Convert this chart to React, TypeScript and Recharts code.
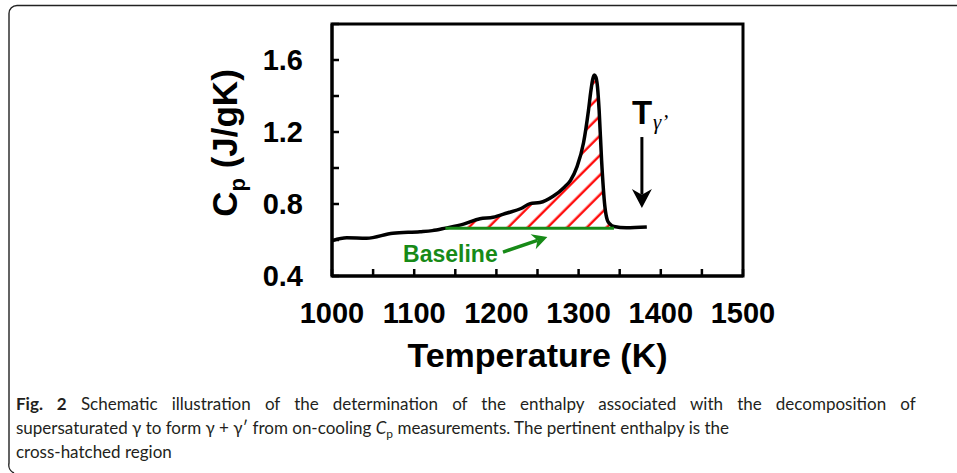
import React from 'react';
import {
  ComposedChart,
  Line,
  Area,
  XAxis,
  YAxis,
  ReferenceArea,
  ReferenceLine,
  ReferenceDot,
} from 'recharts';

// Cp trace (temperature in K, Cp in J/gK)
const temps = [
  1000, 1018, 1042, 1074, 1107, 1122, 1138, 1160, 1180, 1196, 1213, 1230, 1241, 1253,
  1269, 1283, 1290, 1298, 1306, 1312, 1315, 1317, 1319, 1321, 1323, 1325, 1328, 1332,
  1335, 1338, 1343, 1358, 1383,
];
const cpValues = [
  0.596, 0.612, 0.61, 0.638, 0.646, 0.652, 0.666, 0.688, 0.718, 0.726, 0.75, 0.775, 0.802, 0.808,
  0.843, 0.895, 0.93, 1.006, 1.14, 1.32, 1.43, 1.49, 1.517, 1.505, 1.45, 1.32, 1.04, 0.785,
  0.71, 0.69, 0.675, 0.668, 0.672,
];

// green baseline under the transformation peak
const baseStart = 1138;
const baseEnd = 1343;
const baseCp = 0.665;

const xTicks = [1000, 1050, 1100, 1150, 1200, 1250, 1300, 1350, 1400, 1450, 1500];
const xLabels = [1000, 1100, 1200, 1300, 1400, 1500];
const yTicks = [0.4, 0.6, 0.8, 1.0, 1.2, 1.4, 1.6, 1.8];
const yLabels = [0.4, 0.8, 1.2, 1.6];

const data = temps.map((t, i) => ({
  t,
  cp: cpValues[i],
  hatch: t >= baseStart && t <= baseEnd ? [baseCp, cpValues[i]] : null,
}));

const baselineData = [
  { t: baseStart, base: baseCp },
  { t: baseEnd, base: baseCp },
];

const FONT = 'Liberation Sans, Arial, Helvetica, sans-serif';
const GREEN = '#178a17';

const tickStyle = { fill: '#000', fontSize: 29, fontWeight: 'bold', fontFamily: FONT };

// arrow drawn along a ReferenceLine segment
const arrow = (color: string, width: number, len: number, half: number) => (p: any) => {
  const { x1, y1, x2, y2 } = p;
  const dx = x2 - x1;
  const dy = y2 - y1;
  const L = Math.hypot(dx, dy) || 1;
  const ux = dx / L;
  const uy = dy / L;
  const nx = -uy;
  const ny = ux;
  const bx = x2 - ux * len;
  const by = y2 - uy * len;
  const kx = x2 - ux * len * 0.7;
  const ky = y2 - uy * len * 0.7;
  const pts = [
    [x2, y2],
    [bx + nx * half, by + ny * half],
    [kx, ky],
    [bx - nx * half, by - ny * half],
  ]
    .map((q) => q.join(','))
    .join(' ');
  return (
    <g>
      <line x1={x1} y1={y1} x2={kx} y2={ky} stroke={color} strokeWidth={width} />
      <polygon points={pts} fill={color} />
    </g>
  );
};

const YLabel = (props: any) => {
  const vb = props.viewBox || { x: 212, y: 24, width: 120, height: 252 };
  const cx = vb.x + vb.width - 95;
  const cy = vb.y + vb.height / 2 - 7;
  return (
    <text
      x={cx}
      y={cy}
      transform={`rotate(-90, ${cx}, ${cy})`}
      textAnchor="middle"
      fontFamily={FONT}
      fontWeight="bold"
      fontSize={35}
      fill="#000"
    >
      C
      <tspan fontSize={22} dy={8}>
        p
      </tspan>
      <tspan dy={-8}> (J/gK)</tspan>
    </text>
  );
};

const XLabel = (props: any) => {
  const vb = props.viewBox || { x: 332, y: 276, width: 411, height: 120 };
  return (
    <text
      x={vb.x + vb.width / 2}
      y={vb.y + 91}
      textAnchor="middle"
      fontFamily={FONT}
      fontWeight="bold"
      fontSize={34}
      fill="#000"
    >
      Temperature (K)
    </text>
  );
};

export default function App() {
  return (
    <div
      style={{
        position: 'absolute',
        left: 0,
        top: 0,
        width: 957,
        height: 473,
        background: '#fff',
        overflow: 'hidden',
      }}
    >
      <ComposedChart
        width={957}
        height={473}
        data={data}
        margin={{ top: 24, right: 214, bottom: 77, left: 212 }}
      >
        <defs>
          <pattern
            id="hatch"
            width="13.93"
            height="13.93"
            patternUnits="userSpaceOnUse"
            patternTransform="rotate(45)"
          >
            <line x1="4.7" y1="-1" x2="4.7" y2="15" stroke="#ff0000" strokeWidth="2.3" />
          </pattern>
        </defs>
        <XAxis
          dataKey="t"
          type="number"
          domain={[1000, 1500]}
          ticks={xTicks}
          interval={0}
          allowDataOverflow
          tickFormatter={(v: number) => (xLabels.includes(v) ? String(v) : '')}
          tickSize={-7}
          tickMargin={33}
          height={120}
          axisLine={{ stroke: '#000', strokeWidth: 3 }}
          tickLine={{ stroke: '#000', strokeWidth: 2.5 }}
          tick={tickStyle}
          label={{ content: XLabel }}
        />
        <YAxis
          type="number"
          domain={[0.4, 1.8]}
          ticks={yTicks}
          interval={0}
          allowDataOverflow
          tickFormatter={(v: number) =>
            yLabels.some((l) => Math.abs(l - v) < 1e-6) ? v.toFixed(1) : ''
          }
          tickSize={-7}
          tickMargin={36}
          width={120}
          axisLine={{ stroke: '#000', strokeWidth: 3 }}
          tickLine={{ stroke: '#000', strokeWidth: 2.5 }}
          tick={tickStyle}
          label={{ content: YLabel }}
        />
        <ReferenceArea
          x1={1000}
          x2={1500}
          y1={0.4}
          y2={1.8}
          fill="none"
          fillOpacity={0}
          stroke="#000"
          strokeWidth={3}
        />
        <Area
          dataKey="hatch"
          type="monotone"
          stroke="none"
          fill="url(#hatch)"
          fillOpacity={1}
          isAnimationActive={false}
          activeDot={false}
        />
        <Line
          dataKey="cp"
          type="monotone"
          stroke="#000"
          strokeWidth={3.5}
          strokeLinejoin="round"
          dot={false}
          activeDot={false}
          isAnimationActive={false}
        />
        <Line
          data={baselineData}
          dataKey="base"
          type="linear"
          stroke={GREEN}
          strokeWidth={3}
          dot={false}
          activeDot={false}
          isAnimationActive={false}
        />
        <ReferenceLine
          segment={[
            { x: 1208, y: 0.533 },
            { x: 1262, y: 0.617 },
          ]}
          shape={arrow(GREEN, 3.5, 15, 8)}
        />
        <ReferenceLine
          segment={[
            { x: 1377, y: 1.172 },
            { x: 1377, y: 0.778 },
          ]}
          shape={arrow('#000', 3, 19, 10)}
        />
        <ReferenceDot
          x={1086.5}
          y={0.478}
          shape={(p: any) => (
            <text
              x={p.cx}
              y={p.cy}
              fill={GREEN}
              fontFamily={FONT}
              fontWeight="bold"
              fontSize={23}
            >
              Baseline
            </text>
          )}
        />
        <ReferenceDot
          x={1365}
          y={1.244}
          shape={(p: any) => (
            <g>
              <text x={p.cx} y={p.cy} fill="#000" fontFamily={FONT} fontWeight="bold" fontSize={33}>
                T
              </text>
              <text
                x={p.cx + 21}
                y={p.cy + 5}
                fill="#000"
                fontFamily="Liberation Serif, serif"
                fontStyle="italic"
                fontSize={21}
              >
                γ’
              </text>
            </g>
          )}
        />
      </ComposedChart>

      <svg
        width={957}
        height={473}
        style={{ position: 'absolute', left: 0, top: 0, pointerEvents: 'none' }}
      >
        <path
          d="M 957 5.5 H 17 A 8 8 0 0 0 9 13.5 V 463 A 9 9 0 0 0 14 473"
          fill="none"
          stroke="#222"
          strokeWidth={1.4}
        />
        <g fontFamily="Lato, Open Sans, sans-serif" fontSize={17} fill="#231f20">
          <text x={16} y={410} style={{ wordSpacing: '9.8px' }}>
            <tspan fontWeight="bold">Fig. 2</tspan> Schematic illustration of the determination of
            the enthalpy associated with the decomposition of
          </text>
          <text x={16} y={434}>
            supersaturated γ to form γ + γ′ from on-cooling <tspan fontStyle="italic">C</tspan>
            <tspan fontSize={12} dy={4}>
              p
            </tspan>
            <tspan dy={-4}> measurements. The pertinent enthalpy is the</tspan>
          </text>
          <text x={16} y={458}>
            cross-hatched region
          </text>
        </g>
      </svg>
    </div>
  );
}
